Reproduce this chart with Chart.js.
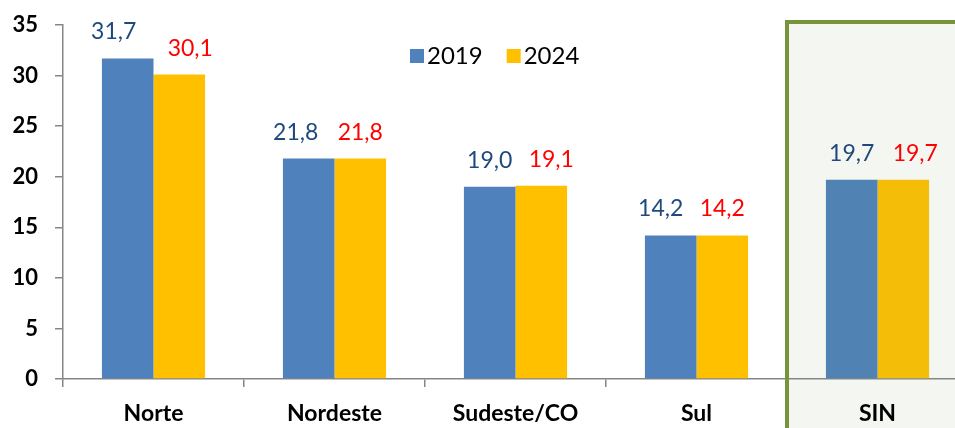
<!DOCTYPE html>
<html lang="pt">
<head>
    <meta charset="UTF-8">
    <title>2019 x 2024</title>
    <script src="https://cdn.jsdelivr.net/npm/chart.js"></script>
    <style>
        html, body { margin: 0; padding: 0; background: #fff; overflow: hidden; }
        #wrap { width: 970px; height: 428px; }
    </style>
</head>
<body>
    <div id="wrap">
        <canvas id="chart" width="970" height="428"></canvas>
    </div>

    <script>
        // dados
        const regioes = ['Norte', 'Nordeste', 'Sudeste/CO', 'Sul', 'SIN'];
        const valores2019 = [31.7, 21.8, 19.0, 14.2, 19.7];
        const valores2024 = [30.1, 21.8, 19.1, 14.2, 19.7];
        const ticksY = [0, 5, 10, 15, 20, 25, 30, 35];

        const FONT = 'Lato, "Open Sans", sans-serif';
        const azul = ['#4F81BD', '#4F81BD', '#4F81BD', '#4F81BD', '#5082B3'];
        const amarelo = ['#FFC000', '#FFC000', '#FFC000', '#FFC000', '#F4BE08'];
        // deslocamento horizontal dos rotulos (como no original, px)
        const ajusteRotulo = [[-14, -13, 0, -10, 0], [11, 0, 10, 0, 12]];

        function fmt(v) {
            return v.toFixed(1).replace('.', ',');
        }

        function bordaSIN(chart) {
            const x = chart.scales.x;
            const metade = (x.getPixelForValue(1) - x.getPixelForValue(0)) / 2;
            return x.getPixelForValue(4) - metade;
        }

        // caixa verde atras do SIN
        const caixaSIN = {
            id: 'caixaSIN',
            beforeDraw(chart) {
                const ctx = chart.ctx;
                const left = bordaSIN(chart);
                ctx.save();
                ctx.fillStyle = '#F4F6F1';
                ctx.fillRect(left, chart.chartArea.top - 3, chart.width - left, chart.height);
                ctx.restore();
            },
            afterDraw(chart) {
                const ctx = chart.ctx;
                const left = bordaSIN(chart);
                const top = chart.chartArea.top - 3;
                ctx.save();
                ctx.strokeStyle = '#77933C';
                ctx.lineWidth = 4;
                ctx.beginPath();
                ctx.moveTo(left, chart.height + 5);
                ctx.lineTo(left, top);
                ctx.lineTo(chart.width + 5, top);
                ctx.stroke();
                ctx.restore();
            }
        };

        // rotulos de valor acima das barras
        const rotulos = {
            id: 'rotulos',
            afterDatasetsDraw(chart) {
                const ctx = chart.ctx;
                const cores = ['#1F497D', '#FF0000'];
                ctx.save();
                ctx.font = '23px ' + FONT;
                ctx.textAlign = 'center';
                ctx.textBaseline = 'alphabetic';
                chart.data.datasets.forEach((ds, i) => {
                    chart.getDatasetMeta(i).data.forEach((bar, j) => {
                        ctx.fillStyle = cores[i];
                        ctx.fillText(fmt(ds.data[j]), bar.x + ajusteRotulo[i][j], bar.y - 19);
                    });
                });
                ctx.restore();
            }
        };

        // legenda dentro da area do grafico
        const legenda = {
            id: 'legenda',
            afterDraw(chart) {
                const ctx = chart.ctx;
                ctx.save();
                ctx.font = '24px ' + FONT;
                ctx.textBaseline = 'middle';
                let x = 410;
                const y = 56;
                chart.data.datasets.forEach((ds) => {
                    ctx.fillStyle = ds.backgroundColor[0];
                    ctx.fillRect(x, y - 7, 14, 14);
                    ctx.fillStyle = '#000';
                    ctx.fillText(ds.label, x + 17, y);
                    x += 17 + ctx.measureText(ds.label).width + 24;
                });
                ctx.restore();
            }
        };

        new Chart(document.getElementById('chart'), {
            type: 'bar',
            data: {
                labels: regioes,
                datasets: [
                    { label: '2019', data: valores2019, backgroundColor: azul },
                    { label: '2024', data: valores2024, backgroundColor: amarelo }
                ]
            },
            options: {
                responsive: false,
                animation: false,
                layout: { padding: { top: 25, right: 2, left: 0, bottom: 0 } },
                datasets: {
                    bar: { barPercentage: 1.0, categoryPercentage: 0.57 }
                },
                plugins: {
                    legend: { display: false },
                    tooltip: { enabled: false }
                },
                scales: {
                    x: {
                        grid: {
                            display: true,
                            offset: true,
                            drawOnChartArea: false,
                            drawTicks: true,
                            tickLength: 8,
                            color: '#868686',
                            lineWidth: 1.5
                        },
                        border: { color: '#868686', width: 1.5 },
                        ticks: {
                            color: '#000',
                            padding: 13,
                            font: { family: FONT, size: 23, weight: 'bold' }
                        },
                        afterFit(scale) { scale.height = 49; }
                    },
                    y: {
                        min: 0,
                        max: 35,
                        afterBuildTicks(scale) {
                            scale.ticks = ticksY.map(v => ({ value: v }));
                        },
                        grid: {
                            drawOnChartArea: false,
                            drawTicks: true,
                            tickLength: 8,
                            color: '#868686',
                            lineWidth: 1.5
                        },
                        border: { color: '#868686', width: 1.5 },
                        ticks: {
                            color: '#000',
                            padding: 17,
                            font: { family: FONT, size: 22, weight: 'bold', lineHeight: 1 }
                        },
                        afterFit(scale) {
                            scale.width = 63;
                            scale.paddingTop = 0;
                            scale.paddingBottom = 0;
                        }
                    }
                }
            },
            plugins: [caixaSIN, rotulos, legenda]
        });
    </script>
</body>
</html>
